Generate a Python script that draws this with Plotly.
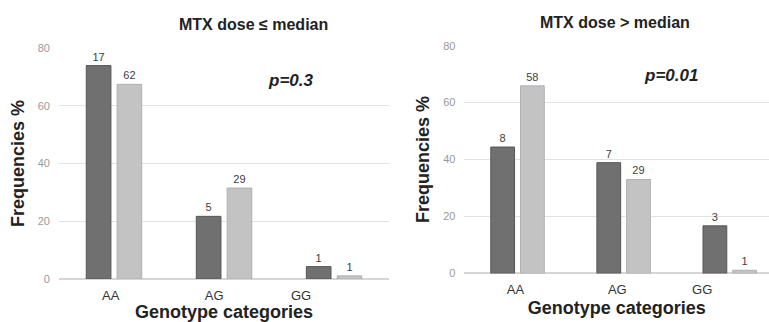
import plotly.graph_objects as go

categories = ["AA", "AG", "GG"]

left_dark = [73.9, 21.7, 4.3]
left_light = [67.4, 31.5, 1.1]
left_dark_labels = ["17", "5", "1"]
left_light_labels = ["62", "29", "1"]

right_dark = [44.4, 38.9, 16.7]
right_light = [65.9, 33.0, 1.1]
right_dark_labels = ["8", "7", "3"]
right_light_labels = ["58", "29", "1"]

y_ticks = [0, 20, 40, 60, 80]

# small horizontal nudges of the category tick labels (as in the original image)
left_label_nudge = [-0.03, -0.09, -0.30]
right_label_nudge = [-0.02, -0.06, -0.26]

DARK = "#707070"
DARK_LINE = "#555555"
LIGHT = "#c3c3c3"
LIGHT_LINE = "#b0b0b0"
FONT = "Liberation Sans, Arial, sans-serif"
W, H = 769, 322

fig = go.Figure()

def add_pair(dark, light, dlab, llab, xa, ya):
    for vals, labs, col, lc in ((dark, dlab, DARK, DARK_LINE), (light, llab, LIGHT, LIGHT_LINE)):
        tf = dict(size=11, color="#404040", family=FONT)
        fig.add_trace(go.Bar(x=categories, y=vals, text=labs, textposition="outside",
                             marker=dict(color=col, line=dict(color=lc, width=1)),
                             textfont=tf, outsidetextfont=tf,
                             cliponaxis=False, xaxis=xa, yaxis=ya, showlegend=False,
                             hoverinfo="skip"))

add_pair(left_dark, left_light, left_dark_labels, left_light_labels, "x", "y")
add_pair(right_dark, right_light, right_dark_labels, right_light_labels, "x2", "y2")

def xaxis_style(nudge):
    return dict(showgrid=False, zeroline=False, showline=False, ticks="", automargin=False,
                tickmode="array",
                tickvals=[i + n for i, n in enumerate(nudge)], ticktext=categories,
                tickfont=dict(size=13, color="#333333", family=FONT),
                ticklabelstandoff=7,
                title=dict(text="<b>Genotype categories</b>", standoff=5,
                           font=dict(size=18, color="#222222", family="Liberation Sans, Arial")))

ycommon = dict(range=[0, 80], tickvals=y_ticks, showgrid=True, gridcolor="#e2e2e2",
               gridwidth=1, zeroline=True, zerolinecolor="#d6d6d6", showline=False,
               automargin=False,
               tickfont=dict(size=11, color="#9a9a9a", family=FONT),
               ticklen=0, ticks="", ticklabelstandoff=8)
ytitle = dict(text="<b>Frequencies %</b>", standoff=8,
              font=dict(size=18, color="#222222", family="Liberation Sans, Arial"))

def px_to_paper(x, y):
    return x / W, 1 - y / H

annots = [
    ("<b>MTX dose ≤ median</b>", 253, 24, 16),
    ("<b>MTX dose > median</b>", 615, 22, 16),
    ("<b><i>p=0.3</i></b>", 290, 81, 17),
    ("<b><i>p=0.01</i></b>", 671, 75, 17),
]
annotations = []
for t, x, y, s in annots:
    px, py = px_to_paper(x, y)
    annotations.append(dict(text=t, x=px, y=py, xref="paper", yref="paper",
                            xanchor="center", yanchor="middle", showarrow=False,
                            font=dict(size=s, color="#222222", family="Liberation Sans, Arial")))

fig.update_layout(
    width=W, height=H,
    margin=dict(l=0, r=0, t=0, b=0, autoexpand=False),
    paper_bgcolor="white", plot_bgcolor="white",
    barmode="group", bargap=0.44, bargroupgap=0.2,
    hovermode=False,
    xaxis=dict(domain=[0.0767, 0.506], anchor="y", range=[-0.5, 2.5], **xaxis_style(left_label_nudge)),
    yaxis=dict(domain=[0.1335, 0.851], anchor="x", title=ytitle, **ycommon),
    xaxis2=dict(domain=[0.604, 1.0], anchor="y2", range=[-0.5, 2.37], **xaxis_style(right_label_nudge)),
    yaxis2=dict(domain=[0.151, 0.858], anchor="x2", title=ytitle, **ycommon),
    annotations=annotations,
)

fig.write_html("out.html", config={"displayModeBar": False},
               post_script="document.body.style.margin='0px';")
